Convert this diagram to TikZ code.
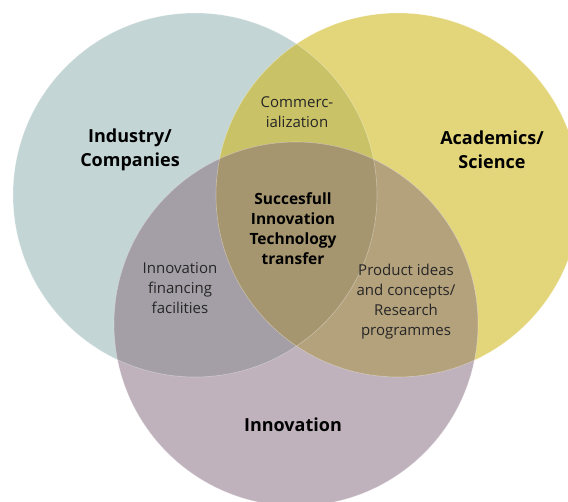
\documentclass[tikz,border=0pt]{standalone}
\usepackage{fontspec}
\setmainfont{Open Sans}
\usepackage{tikz}
\usetikzlibrary{positioning}

\definecolor{indcol}{HTML}{C3D5D4}
\definecolor{acacol}{HTML}{E3D67A}
\definecolor{inncol}{HTML}{BFB2BC}
\definecolor{iacol}{HTML}{C9C266}
\definecolor{iicol}{HTML}{A49FA6}
\definecolor{aicol}{HTML}{B4A27C}
\definecolor{allcol}{HTML}{A69670}

\tikzset{
  biglabel/.style={align=center, font=\bfseries\fontsize{18}{23.5}\selectfont, text=black},
  midlabel/.style={align=center, font=\bfseries\fontsize{15.5}{20}\selectfont, text=black},
  smalllabel/.style={align=center, font=\fontsize{15}{20}\selectfont, text=black!85}
}

\begin{document}
\begin{tikzpicture}[x=1pt,y=-1pt]
    \useasboundingbox (0,0) rectangle (568,502);
    \clip (0,0) rectangle (568,502);
    \def\rad{182}
    \coordinate (ind) at (195,195);
    \coordinate (aca) at (398,195);
    \coordinate (inn) at (296,324);

    % the three sets
    \fill[indcol] (ind) circle (\rad);
    \fill[acacol] (aca) circle (\rad);
    \fill[inncol] (inn) circle (\rad);

    % overlaps
    \begin{scope}
      \clip (ind) circle (\rad);
      \fill[iacol] (aca) circle (\rad);
      \fill[iicol] (inn) circle (\rad);
    \end{scope}
    \begin{scope}
      \clip (aca) circle (\rad);
      \fill[aicol] (inn) circle (\rad);
      \clip (ind) circle (\rad);
      \fill[allcol] (inn) circle (\rad);
    \end{scope}
    \draw[white, opacity=0.35, line width=0.6pt] (ind) circle (\rad) (aca) circle (\rad) (inn) circle (\rad);

    % labels
    \node[biglabel] (industry) at (130,150) {Industry/\\Companies};
    \node[biglabel] (academics) at (492,150) {Academics/\\Science};
    \node[biglabel] (innovation) at (293,425) {Innovation};
    \node[smalllabel] (commerc) at (297,112) {Commerc-\\ialization};
    \node[midlabel] (success) at (293,229) {Succesfull\\Innovation\\Technology\\transfer};
    \node[smalllabel] (financing) at (180,288) {Innovation\\financing\\facilities};
    \node[smalllabel] (product) at (406,302) {Product ideas\\and concepts/\\Research\\programmes};
  \end{tikzpicture}
\end{document}
